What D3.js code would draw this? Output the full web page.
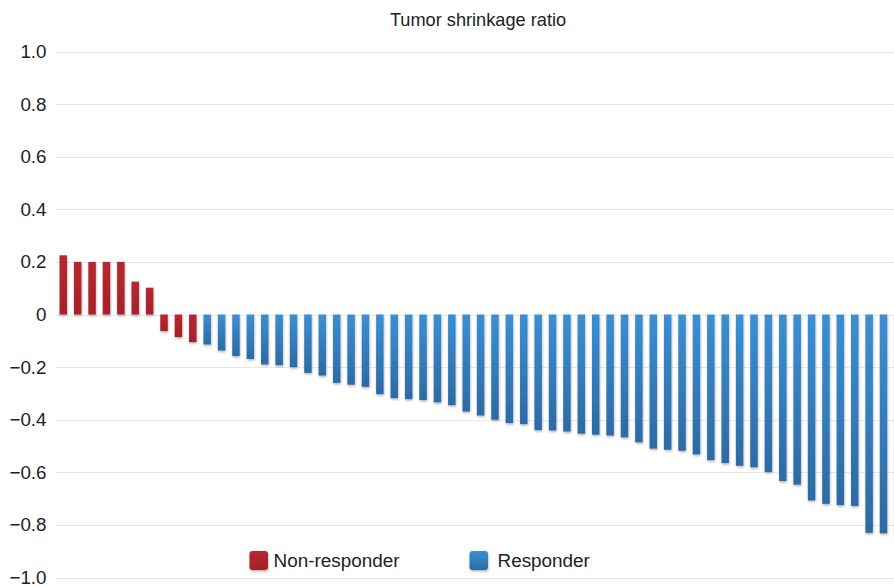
<!DOCTYPE html>
<html>
<head>
<meta charset="utf-8">
<script src="https://cdn.jsdelivr.net/npm/d3@7"></script>
<style>
  html, body { margin: 0; padding: 0; background: #fff; }
  svg { display: block; font-family: "Liberation Sans", Arial, Helvetica, sans-serif; }
</style>
</head>
<body>
<svg id="chart" width="894" height="587"></svg>
<script>
// ---- data ----
const title = "Tumor shrinkage ratio";
const groups = ["Non-responder", "Responder"];
const groupColors = ["#b8282f", "#3b8fd2"];
const groupColorsDark = ["#a52229", "#2d6aa4"];
const nonResponderValues = [0.225, 0.2, 0.2, 0.2, 0.2, 0.125, 0.102, -0.063, -0.086, -0.105];
const responderValues = [
  -0.114, -0.137, -0.158, -0.169, -0.19, -0.193, -0.2, -0.222, -0.232, -0.26,
  -0.267, -0.275, -0.303, -0.318, -0.322, -0.325, -0.334, -0.345, -0.369, -0.384,
  -0.4, -0.413, -0.417, -0.44, -0.441, -0.445, -0.453, -0.457, -0.46, -0.467,
  -0.486, -0.51, -0.514, -0.518, -0.532, -0.554, -0.565, -0.575, -0.581, -0.599,
  -0.633, -0.647, -0.707, -0.72, -0.725, -0.728, -0.83, -0.832, -0.84
];
const yTicks = [1.0, 0.8, 0.6, 0.4, 0.2, 0, -0.2, -0.4, -0.6, -0.8, -1.0];
const yTickLabels = ["1.0", "0.8", "0.6", "0.4", "0.2", "0", "\u22120.2", "\u22120.4", "\u22120.6", "\u22120.8", "\u22121.0"];

// ---- build records ----
const data = [];
nonResponderValues.forEach(v => data.push({ value: v, group: 0 }));
responderValues.forEach(v => data.push({ value: v, group: 1 }));
data.forEach((d, i) => d.id = i);

const svg = d3.select("#chart");

const x = d3.scaleBand()
  .domain(data.map(d => d.id))
  .range([56.1, 905.1])
  .paddingInner(0.48)
  .paddingOuter(0.24);

const y = d3.scaleLinear().domain([-1, 1]).range([577.5, 51.5]);

// defs: gradients + shadow
const defs = svg.append("defs");
groups.forEach((g, gi) => {
  const grad = defs.append("linearGradient")
    .attr("id", "grad" + gi)
    .attr("x1", 0).attr("y1", 0).attr("x2", 0).attr("y2", 1);
  grad.append("stop").attr("offset", "0%").attr("stop-color", groupColors[gi]);
  grad.append("stop").attr("offset", "100%").attr("stop-color", groupColorsDark[gi]);
});
const shadow = defs.append("filter").attr("id", "shadow")
  .attr("x", "-50%").attr("y", "-10%").attr("width", "200%").attr("height", "130%");
shadow.append("feDropShadow")
  .attr("dx", 0.5).attr("dy", 1.5).attr("stdDeviation", 1)
  .attr("flood-color", "#000").attr("flood-opacity", 0.3);

// gridlines
svg.append("g").selectAll("line")
  .data(yTicks)
  .join("line")
  .attr("x1", 56).attr("x2", 894)
  .attr("y1", d => Math.round(y(d)) + 0.5)
  .attr("y2", d => Math.round(y(d)) + 0.5)
  .attr("stroke", "#e6e7ec")
  .attr("stroke-width", 1);

// y axis labels via d3 axis
const yAxis = d3.axisLeft(y)
  .tickValues(yTicks)
  .tickSize(0)
  .tickPadding(0)
  .tickFormat((d, i) => yTickLabels[i]);
const gy = svg.append("g").attr("transform", "translate(46.5,0)").call(yAxis);
gy.select(".domain").remove();
gy.selectAll("text")
  .attr("font-size", "18.8px")
  .attr("fill", "#222")
  .attr("font-family", "'Liberation Sans', Arial, Helvetica, sans-serif");

// bars
svg.append("g").selectAll("rect")
  .data(data)
  .join("rect")
  .attr("x", d => x(d.id))
  .attr("width", x.bandwidth())
  .attr("y", d => y(Math.max(0, d.value)))
  .attr("height", d => Math.abs(y(d.value) - y(0)))
  .attr("fill", d => "url(#grad" + d.group + ")")
  .attr("filter", "url(#shadow)");

// title
svg.append("text")
  .attr("x", 478).attr("y", 26)
  .attr("text-anchor", "middle")
  .attr("font-size", "18.2px")
  .attr("fill", "#222")
  .text(title);

// legend
const legendX = [249.5, 469.5];
const legendTextDx = [24, 28];
const leg = svg.append("g").selectAll("g")
  .data(groups)
  .join("g")
  .attr("transform", (d, i) => `translate(${legendX[i]},551)`);
leg.append("rect")
  .attr("width", 18.5).attr("height", 19)
  .attr("rx", 3).attr("ry", 3)
  .attr("fill", (d, i) => "url(#grad" + i + ")")
  .attr("filter", "url(#shadow)");
leg.append("text")
  .attr("x", (d, i) => legendTextDx[i]).attr("y", 16)
  .attr("font-size", "18.9px")
  .attr("fill", "#222")
  .text(d => d);
</script>
</body>
</html>
